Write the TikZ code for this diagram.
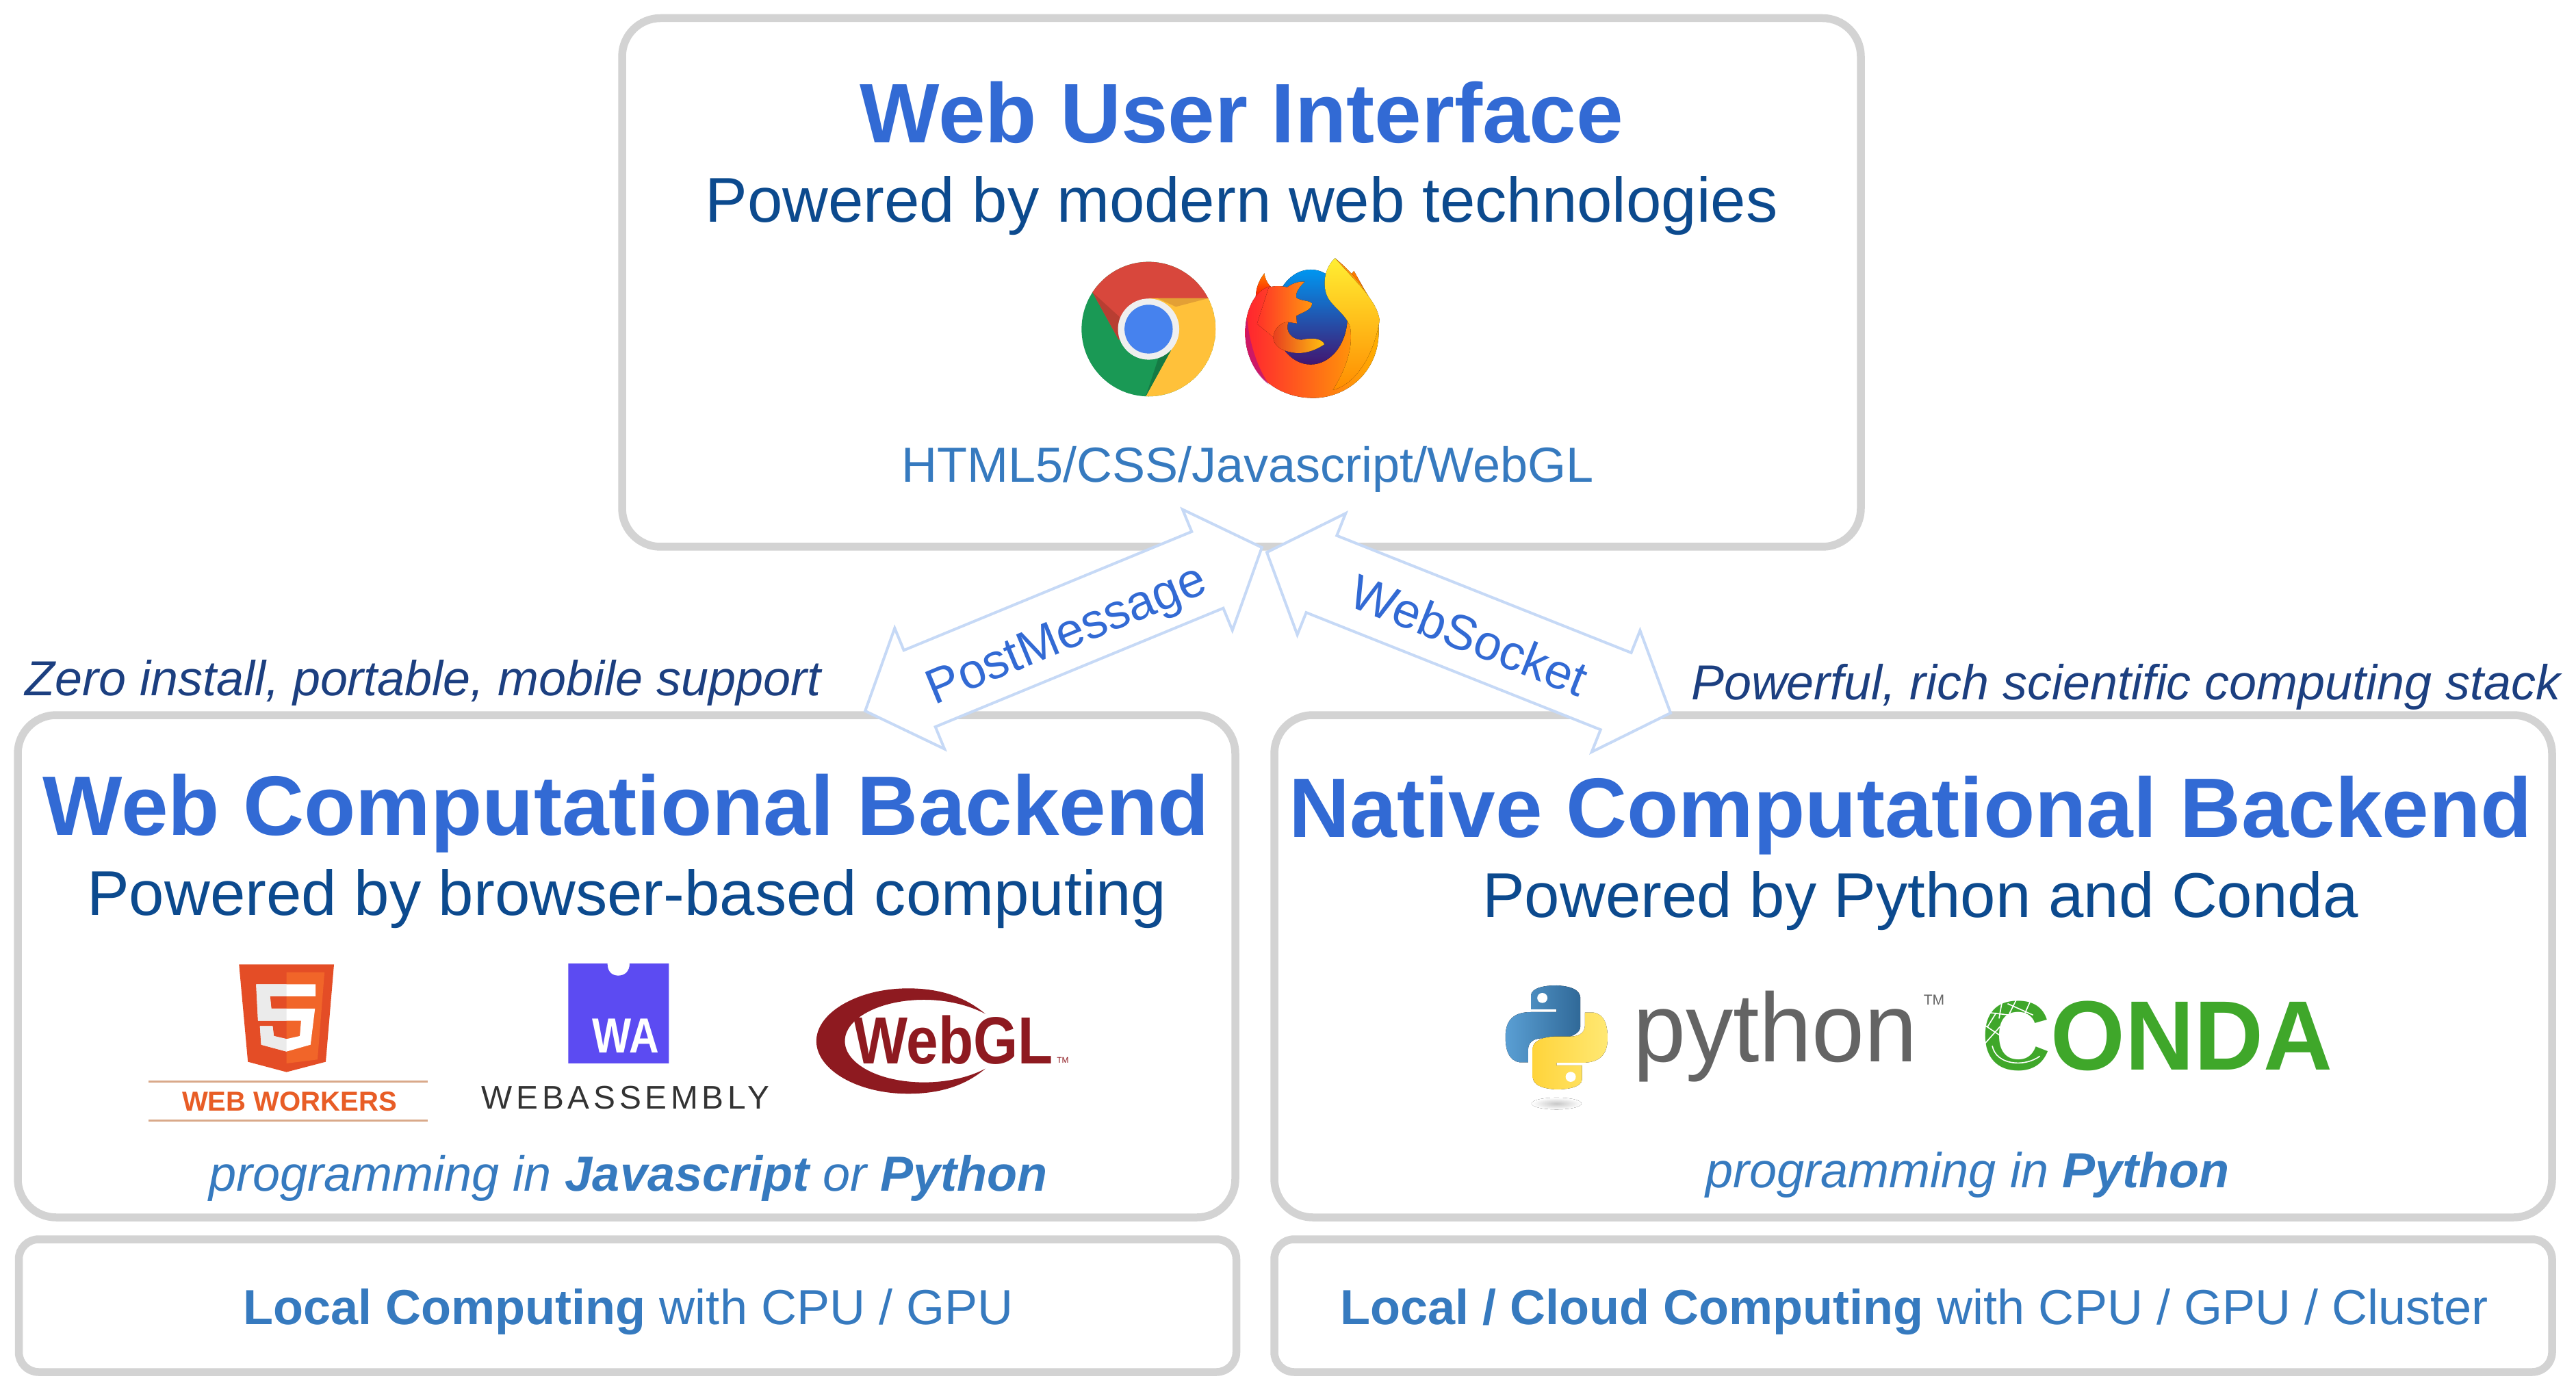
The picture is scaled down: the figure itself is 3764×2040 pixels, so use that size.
\documentclass[tikz,border=0pt]{standalone}
\usepackage{fontspec}
\setmainfont{Liberation Sans}
\newfontfamily\spacedfont[LetterSpace=12]{Liberation Sans}
\usetikzlibrary{shapes.arrows}

\definecolor{panelgray}{HTML}{D3D3D3}
\definecolor{titleblue}{HTML}{326AD4}
\definecolor{subblue}{HTML}{0C4A8E}
\definecolor{noteblue}{HTML}{1C3F80}
\definecolor{textblue}{HTML}{367ABF}
\definecolor{arrowblue}{HTML}{C6D9F6}

\tikzset{
  panel/.style={draw=panelgray,line width=1.15mm,rounded corners=5.6mm,fill=white,inner sep=0pt},
  basepanel/.style={panel,rounded corners=2.9mm},
  paneltitle/.style={anchor=base,text=titleblue,font=\fontsize{35.1}{42}\selectfont\bfseries,inner sep=0pt},
  panelsub/.style={anchor=base,text=subblue,font=\fontsize{26.3}{32}\selectfont,inner sep=0pt},
  panelnote/.style={anchor=base,text=textblue,font=\fontsize{20.5}{25}\selectfont,inner sep=0pt},
  sidenote/.style={anchor=base,text=noteblue,font=\fontsize{20.45}{25}\selectfont\itshape,inner sep=0pt},
  linkarrow/.style={shape=double arrow,draw=arrowblue,line width=0.4mm,fill=white,inner sep=0pt,
    text height=11.7mm,text depth=0pt,minimum width=18.7mm,double arrow head extend=3.5mm,double arrow tip angle=96},
  linklabel/.style={text=titleblue,font=\fontsize{20.4}{25}\selectfont,inner sep=0pt},
  logotext/.style={anchor=base,inner sep=0pt},
  browsercoords/.style={shift={(1500,340)},x=0.03827mm,y=-0.03333mm},
  webcoords/.style={shift={(180,1380)},x=0.0925mm,y=-0.03333mm},
  nativecoords/.style={shift={(2150,1400)},x=0.0829mm,y=-0.03333mm}
}

\begin{document}
\begin{tikzpicture}[x=0.1mm,y=-0.1mm]
    \useasboundingbox (0,0) rectangle (3764,2040);

    % Panels
    \node (uipanel) [panel,minimum width=181mm,minimum height=77.25mm] at (1814,412.75) {};
    \node (webpanel) [panel,minimum width=177.9mm,minimum height=73.4mm] at (915.5,1412) {};
    \node (nativepanel) [panel,minimum width=186.7mm,minimum height=73.4mm] at (2795.5,1412) {};
    \node (localpanel) [basepanel,minimum width=177.9mm,minimum height=19.4mm] at (917,1908) {};
    \node (cloudpanel) [basepanel,minimum width=186.7mm,minimum height=19.4mm] at (2795.5,1908) {};

    % Link arrows
    \node (postlink) [linkarrow,rotate=22.4,minimum height=62.7mm] at (1554,919.5) {};
    \node (socketlink) [linkarrow,rotate=-21.7,minimum height=63.5mm] at (2146,924.5) {};
    \node (postlabel) [linklabel,rotate=22.4] at (1560,931.5) {PostMessage};
    \node (socketlabel) [linklabel,rotate=-21.7] at (2147,928) {WebSocket};

    % Web user interface
    \node (uititle) [paneltitle] at (1814.5,209) {Web User Interface};
    \node (uisub) [panelsub] at (1814,325) {Powered by modern web technologies};
    \node (uitech) [panelnote] at (1823,705) {HTML5/CSS/Javascript/WebGL};

    % Side notes
    \node (webnote) [sidenote,anchor=base west] at (36,1016) {Zero install, portable, mobile support};
    \node (nativenote) [sidenote,anchor=base east] at (3742,1022) {Powerful, rich scientific computing stack};

    % Web backend
    \node (webtitle) [paneltitle] at (915,1220) {Web Computational Backend};
    \node (websub) [panelsub] at (916,1337.5) {Powered by browser-based computing};
    \node (weblang) [panelnote] at (918,1740) {\itshape programming in \textbf{Javascript} or \textbf{Python}};

    % Native backend
    \node (nativetitle) [paneltitle] at (2792,1223) {Native Computational Backend};
    \node (nativesub) [panelsub] at (2806,1340.5) {Powered by Python and Conda};
    \node (nativelang) [panelnote] at (2875,1735) {\itshape programming in \textbf{Python}};

    % Computing labels
    \node (localtext) [panelnote] at (918,1935) {\textbf{Local Computing} with CPU / GPU};
    \node (cloudtext) [panelnote] at (2797,1935) {\textbf{Local / Cloud Computing} with CPU / GPU / Cluster};

    % Chrome logo
    \begin{scope}[browsercoords]
        \clip (466,423) ellipse [x radius=256,y radius=295];
        \fill[fill={rgb,255:red,26;green,153;blue,85}] (466,423) ellipse [x radius=256,y radius=295];
        \fill[fill={rgb,255:red,216;green,71;blue,60}] (252,262) -- (352,470) -- (466,350) -- (466,288) -- (760,288) -- (760,80) -- (170,80) -- (170,100) -- cycle;
        \fill[fill={rgb,255:red,255;green,193;blue,58}] (466,288) -- (760,288) -- (760,760) -- (440,760) -- (455,718) -- (552,515) -- (466,423) -- cycle;
        \fill[fill={rgb,255:red,184;green,62;blue,50}] (252,262) -- (352,470) -- (365,380) -- cycle;
        \fill[fill={rgb,255:red,21;green,122;blue,68}] (455,718) -- (552,515) -- (505,545) -- cycle;
        \fill[fill={rgb,255:red,227;green,160;blue,53}] (500,288) -- (693,288) -- (570,325) -- cycle;
        \fill[fill={rgb,255:red,239;green,239;blue,239}] (466,423) ellipse [x radius=117,y radius=134];
        \fill[fill={rgb,255:red,70;green,130;blue,238}] (466,423) ellipse [x radius=92,y radius=107];
    \end{scope}

    % Firefox logo
    \begin{scope}[browsercoords]
        \fill[top color=orange,bottom color=red!80!orange] (875,280) .. controls (878,225) and (895,200) .. (908,178) .. controls (910,200) and (920,225) .. (935,240) -- cycle;
        \fill[top color=orange,bottom color=orange!80!red] (1235,190) -- (1250,168) -- (1295,260) -- cycle;
        \fill[left color={rgb,255:red,255;green,36;blue,48},right color={rgb,255:red,255;green,176;blue,0}]
            (930,235) .. controls (870,255) and (835,340) .. (835,440) .. controls (835,610) and (950,725) .. (1095,725)
            .. controls (1215,725) and (1345,620) .. (1345,430) .. controls (1345,300) and (1250,180) .. (1178,112) -- (1100,400) -- cycle;
        \fill[fill={rgb,255:red,190;green,18;blue,120},opacity=.75] (842,375) .. controls (836,400) and (835,420) .. (835,440) .. controls (835,530) and (870,620) .. (925,665) .. controls (880,590) and (850,480) .. (842,375) -- cycle;
        \fill[top color={rgb,255:red,0;green,150;blue,240},middle color={rgb,255:red,10;green,92;blue,220},bottom color={rgb,255:red,66;green,22;blue,112}]
            (1085,370) ellipse [x radius=140,y radius=208];
        \fill[left color={rgb,255:red,255;green,50;blue,40},right color={rgb,255:red,255;green,150;blue,16}]
            (925,240) .. controls (950,230) and (985,235) .. (995,240) .. controls (1010,225) and (1040,212) .. (1062,215)
            .. controls (1040,240) and (1025,265) .. (1030,285) .. controls (1045,300) and (1075,295) .. (1090,310)
            .. controls (1090,340) and (1050,350) .. (1030,365) -- (1032,398) -- (1000,392) -- (945,460) -- (880,400) -- cycle;
        \fill[left color={rgb,255:red,232;green,64;blue,31},right color={rgb,255:red,255;green,192;blue,16}]
            (1000,392) .. controls (970,392) and (945,420) .. (942,460) .. controls (945,500) and (975,520) .. (1030,528)
            .. controls (1075,530) and (1110,510) .. (1137,490) .. controls (1130,465) and (1090,458) .. (1050,470)
            .. controls (1015,470) and (985,435) .. (1000,392) -- cycle;
        \fill[top color={rgb,255:red,255;green,238;blue,51},bottom color={rgb,255:red,255;green,140;blue,0}]
            (1178,112) .. controls (1140,150) and (1130,220) .. (1145,270) .. controls (1160,320) and (1215,350) .. (1235,410)
            .. controls (1245,470) and (1240,560) .. (1170,690) .. controls (1240,670) and (1320,570) .. (1348,385)
            .. controls (1340,300) and (1260,220) .. (1178,112) -- cycle;
    \end{scope}

    % HTML5 shield
    \begin{scope}[webcoords]
        \fill[fill={rgb,255:red,228;green,77;blue,38}] (183,88) -- (333,88) -- (320,515) -- (258,560) -- (197,515) -- cycle;
        \fill[fill={rgb,255:red,241;green,101;blue,41}] (258,123) -- (318,123) -- (307,505) -- (258,522) -- cycle;
        \fill[fill=white] (210,175) -- (304,175) -- (304,228) -- (232,228) -- (234,282) -- (303,282) -- (296,440) -- (258,470) -- (218,440) -- (216,358) -- (236,358) -- (238,402) -- (258,415) -- (279,402) -- (281,335) -- (213,335) -- cycle;
        \fill[fill={rgb,255:red,235;green,235;blue,235}] (210,175) -- (258,175) -- (258,228) -- (232,228) -- (234,282) -- (258,282) -- (258,335) -- (213,335) -- cycle;
        \fill[fill={rgb,255:red,235;green,235;blue,235}] (216,358) -- (236,358) -- (238,402) -- (258,415) -- (258,470) -- (218,440) -- cycle;
        \draw[line width=0.3mm,color={rgb,255:red,217;green,169;blue,138}] (40,602) -- (481,602) (40,773) -- (481,773);
    \end{scope}
    \node (workerstext) [logotext,text={rgb,255:red,232;green,93;blue,38},font=\fontsize{11.4}{14}\selectfont\bfseries] at (423,1623) {WEB WORKERS};

    % WebAssembly mark
    \begin{scope}[webcoords]
        \fill[fill={rgb,255:red,92;green,75;blue,242}] (703,84) -- (765,84) .. controls (765,120) and (772,137) .. (782,137) .. controls (792,137) and (800,120) .. (800,84) -- (862,84) -- (862,522) -- (703,522) -- cycle;
    \end{scope}
    \node (watext) [logotext,text=white,xscale=.84,font=\fontsize{20.5}{25}\selectfont\bfseries] at (914.5,1538) {WA};
    \node (wasmtext) [logotext,text={rgb,255:red,51;green,51;blue,51},font=\fontsize{13.6}{16}\selectfont\spacedfont] at (914,1620) {WEBASSEMBLY};

    % WebGL mark
    \begin{scope}[webcoords]
        \fill[fill={rgb,255:red,142;green,26;blue,32}] (1362,305) .. controls (1330,230) and (1290,193) .. (1240,193) .. controls (1160,193) and (1095,300) .. (1095,424)
            .. controls (1095,550) and (1160,655) .. (1240,655) .. controls (1290,655) and (1330,620) .. (1362,545)
            .. controls (1335,585) and (1300,605) .. (1265,605) .. controls (1195,605) and (1140,525) .. (1140,424)
            .. controls (1140,325) and (1195,243) .. (1265,243) .. controls (1300,243) and (1335,265) .. (1362,305) -- cycle;
    \end{scope}
    \node (gltext) [logotext,text={rgb,255:red,142;green,26;blue,32},xscale=.86,font=\fontsize{27.7}{33}\selectfont\bfseries] at (1393,1554) {WebGL};
    \node (gltm) [logotext,text={rgb,255:red,142;green,26;blue,32},font=\fontsize{3.4}{4}\selectfont] at (1553,1553) {TM};

    % Python snakes
    \def\snakepath{(150,120) .. controls (190,125) and (192,160) .. (192,180) -- (192,300) .. controls (192,330) and (175,352) .. (150,352) -- (125,352) .. controls (105,352) and (100,380) .. (100,400) -- (100,457) -- (85,457) .. controls (65,450) and (60,400) .. (60,345) .. controls (60,270) and (75,237) .. (105,237) -- (150,237) -- (150,225) -- (105,225) -- (105,165) .. controls (105,130) and (130,120) .. (150,120) -- cycle}
    \begin{scope}[nativecoords]
        \fill[inner color=black!22,outer color=white] (150,638) ellipse [x radius=44,y radius=26];
        \fill[left color={rgb,255:red,90;green,159;blue,212},right color={rgb,255:red,48;green,105;blue,152}] \snakepath;
        \fill[white] (125,175) ellipse [x radius=9,y radius=22];
        \begin{scope}[rotate around={180:(150,348)}]
            \fill[right color={rgb,255:red,255;green,232;blue,115},left color={rgb,255:red,255;green,212;blue,59}] \snakepath;
            \fill[white] (125,175) ellipse [x radius=9,y radius=22];
        \end{scope}
    \end{scope}
    \node (pythontext) [logotext,text={rgb,255:red,100;green,100;blue,100},xscale=.97,font=\fontsize{40.6}{48}\selectfont] at (2594,1551) {python};
    \node (pythontm) [logotext,text={rgb,255:red,100;green,100;blue,100},font=\fontsize{6}{7}\selectfont] at (2826,1468) {TM};

    % Conda wordmark
    \node (condatext) [logotext,text={rgb,255:red,63;green,167;blue,42},xscale=.97,font=\fontsize{41}{49}\selectfont\bfseries] at (3152,1563) {CONDA};
    \begin{scope}[nativecoords]
        \draw[white,line width=0.16mm] (935,195) -- (930,265) (960,185) -- (948,245) (985,190) -- (975,245) (915,240) -- (965,255) (905,295) -- (935,345) (905,375) -- (932,300) (945,200) -- (990,250) (925,240) -- (910,300);
        \draw[white,line width=0.16mm] (918,385) .. controls (925,470) and (975,480) .. (1002,430);
    \end{scope}
\end{tikzpicture}
\end{document}
